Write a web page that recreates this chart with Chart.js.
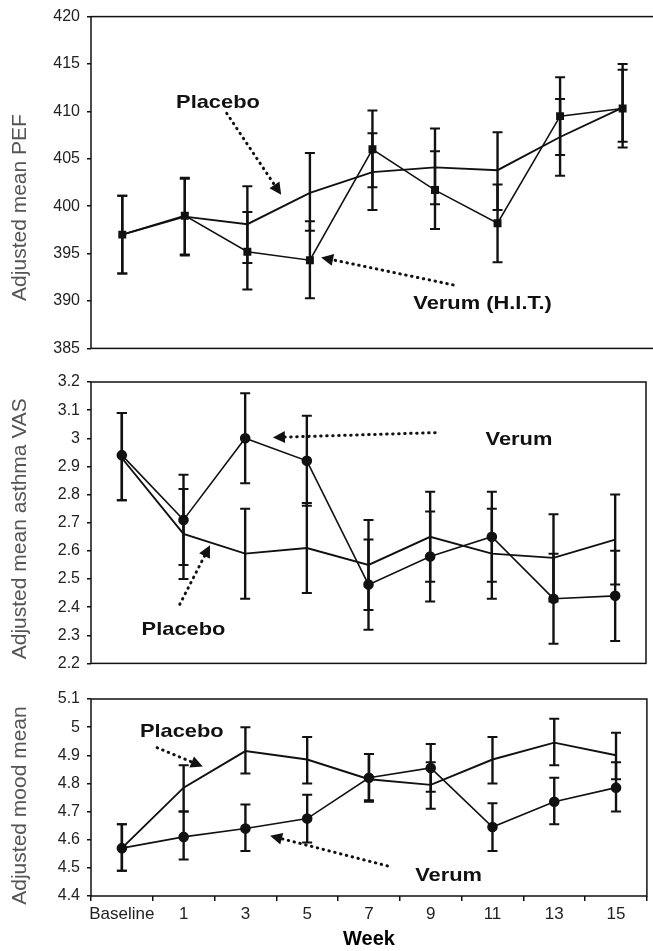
<!DOCTYPE html>
<html>
<head>
<meta charset="utf-8">
<script src="https://cdn.jsdelivr.net/npm/chart.js@4.4.1/dist/chart.umd.min.js"></script>
<style>
html, body { margin: 0; padding: 0; background: #fff; overflow: hidden; width: 653px; height: 951px; }
canvas { position: absolute; left: 0; }
</style>
</head>
<body>
<canvas id="pefChart" width="660" height="365" style="top:0px"></canvas>
<canvas id="vasChart" width="653" height="315" style="top:365px"></canvas>
<canvas id="moodChart" width="653" height="271" style="top:680px"></canvas>
<script>
var weeks = ['Baseline', '1', '3', '5', '7', '9', '11', '13', '15'];

// adjusted mean PEF
var pefVerum = [397.0, 399.0, 395.2, 394.3, 406.0, 401.7, 398.2, 409.5, 410.3];
var pefVerumLow = [392.9, 394.8, 391.2, 390.3, 402.0, 397.6, 394.1, 405.4, 406.2];
var pefVerumHigh = [401.1, 403.0, 399.4, 398.4, 410.1, 405.8, 402.3, 413.6, 414.4];
var pefPlacebo = [397.0, 398.9, 398.1, 401.4, 403.6, 404.1, 403.8, 407.3, 410.4];
var pefPlaceboLow = [392.9, 394.9, 394.0, 397.4, 399.6, 400.2, 399.6, 403.2, 406.8];
var pefPlaceboHigh = [401.1, 402.9, 402.1, 405.6, 407.7, 408.2, 407.8, 411.3, 415.0];

// adjusted mean asthma VAS
var vasVerum = [2.94, 2.71, 3.00, 2.92, 2.48, 2.58, 2.65, 2.43, 2.44];
var vasVerumLow = [2.78, 2.55, 2.84, 2.76, 2.32, 2.42, 2.49, 2.27, 2.28];
var vasVerumHigh = [3.09, 2.87, 3.16, 3.08, 2.64, 2.74, 2.81, 2.59, 2.60];
var vasPlacebo = [2.93, 2.66, 2.59, 2.61, 2.55, 2.65, 2.59, 2.575, 2.64];
var vasPlaceboLow = [2.78, 2.50, 2.43, 2.45, 2.39, 2.49, 2.43, 2.42, 2.48];
var vasPlaceboHigh = [3.09, 2.82, 2.75, 2.77, 2.71, 2.81, 2.75, 2.73, 2.80];

// adjusted mood mean
var moodVerum = [4.57, 4.61, 4.64, 4.675, 4.82, 4.855, 4.645, 4.735, 4.785];
var moodVerumLow = [4.49, 4.53, 4.56, 4.59, 4.74, 4.77, 4.56, 4.655, 4.70];
var moodVerumHigh = [4.655, 4.70, 4.725, 4.76, 4.905, 4.94, 4.73, 4.82, 4.875];
var moodPlacebo = [4.57, 4.785, 4.915, 4.885, 4.815, 4.795, 4.885, 4.945, 4.90];
var moodPlaceboLow = [4.49, 4.70, 4.835, 4.80, 4.735, 4.71, 4.80, 4.865, 4.815];
var moodPlaceboHigh = [4.655, 4.865, 5.0, 4.965, 4.905, 4.875, 4.965, 5.03, 4.98];

Chart.defaults.font.family = "'Liberation Sans', Arial, sans-serif";
Chart.defaults.color = '#222';

// labels + dotted arrows, placed in data units (category index, value)
var panelNotes = {
    pefChart: {
        yTitle: 'Adjusted mean PEF', titleShift: 25,
        labels: [{ text: 'Placebo', at: [1.53, 410.4] }, { text: 'Verum (H.I.T.)', at: [5.76, 389.2] }],
        arrows: [{ from: [1.67, 409.8], to: [2.54, 401.2] }, { from: [5.29, 391.7], to: [3.18, 394.6] }]
    },
    vasChart: {
        yTitle: 'Adjusted mean asthma VAS', titleShift: 6,
        labels: [{ text: 'Verum', at: [6.44, 2.975] }, { text: 'Placebo', at: [1.0, 2.302] }],
        arrows: [{ from: [5.08, 3.02], to: [2.45, 3.003] }, { from: [0.94, 2.41], to: [1.43, 2.62] }]
    },
    moodChart: {
        yTitle: 'Adjusted mood mean', titleShift: 8,
        labels: [{ text: 'Placebo', at: [0.97, 4.966] }, { text: 'Verum', at: [5.29, 4.453] }],
        arrows: [{ from: [0.57, 4.927], to: [1.31, 4.86] }, { from: [4.30, 4.507], to: [2.40, 4.614] }]
    }
};

function drawArrow(ctx, x1, y1, x2, y2) {
    var ang = Math.atan2(y2 - y1, x2 - x1);
    var head = 12;
    var ex = x2 - Math.cos(ang) * head;
    var ey = y2 - Math.sin(ang) * head;
    ctx.save();
    ctx.strokeStyle = '#111';
    ctx.lineWidth = 3;
    ctx.lineCap = 'round';
    ctx.setLineDash([0.5, 5.5]);
    ctx.beginPath();
    ctx.moveTo(x1, y1);
    ctx.lineTo(ex, ey);
    ctx.stroke();
    ctx.setLineDash([]);
    ctx.fillStyle = '#111';
    ctx.beginPath();
    ctx.moveTo(x2, y2);
    ctx.lineTo(ex + Math.sin(ang) * 6, ey - Math.cos(ang) * 6);
    ctx.lineTo(ex - Math.sin(ang) * 6, ey + Math.cos(ang) * 6);
    ctx.closePath();
    ctx.fill();
    ctx.restore();
}

var panelPlugin = {
    id: 'panelPlugin',
    beforeDatasetsDraw: function (chart) {
        var ctx = chart.ctx, ca = chart.chartArea, y = chart.scales.y;
        ctx.save();
        ctx.strokeStyle = '#111';
        ctx.lineWidth = 1.5;
        ctx.strokeRect(ca.left, ca.top, ca.right - ca.left, ca.bottom - ca.top);
        // error bars
        chart.data.datasets.forEach(function (ds, i) {
            var meta = chart.getDatasetMeta(i);
            meta.data.forEach(function (pt, j) {
                var yl = y.getPixelForValue(ds.errLow[j]);
                var yh = y.getPixelForValue(ds.errHigh[j]);
                ctx.lineWidth = 2.4;
                ctx.beginPath();
                ctx.moveTo(pt.x, yl);
                ctx.lineTo(pt.x, yh);
                ctx.stroke();
                ctx.lineWidth = 2;
                ctx.beginPath();
                ctx.moveTo(pt.x - 5, yl); ctx.lineTo(pt.x + 5, yl);
                ctx.moveTo(pt.x - 5, yh); ctx.lineTo(pt.x + 5, yh);
                ctx.stroke();
            });
        });
        ctx.restore();
    },
    afterDraw: function (chart) {
        var ctx = chart.ctx, ca = chart.chartArea;
        var notes = panelNotes[chart.canvas.id];
        var xs = chart.scales.x, ys = chart.scales.y;
        ctx.save();
        ctx.fillStyle = '#555';
        ctx.font = "21px 'Liberation Sans', Arial, sans-serif";
        ctx.textAlign = 'center';
        ctx.textBaseline = 'middle';
        ctx.translate(20, (ca.top + ca.bottom) / 2 + notes.titleShift);
        ctx.rotate(-Math.PI / 2);
        ctx.fillText(notes.yTitle, 0, 0);
        ctx.restore();

        notes.arrows.forEach(function (a) {
            drawArrow(ctx, xs.getPixelForValue(a.from[0]), ys.getPixelForValue(a.from[1]),
                xs.getPixelForValue(a.to[0]), ys.getPixelForValue(a.to[1]));
        });
        notes.labels.forEach(function (l) {
            ctx.save();
            ctx.fillStyle = '#111';
            ctx.font = "bold 19px 'Liberation Sans', Arial, sans-serif";
            ctx.textAlign = 'center';
            ctx.textBaseline = 'alphabetic';
            ctx.translate(xs.getPixelForValue(l.at[0]), ys.getPixelForValue(l.at[1]));
            ctx.scale(1.15, 1);
            ctx.fillText(l.text, 0, 0);
            ctx.restore();
        });
    }
};

function makePanel(id, verum, vLow, vHigh, placebo, pLow, pHigh, yMin, yMax, step, pad, pointShape, lastPanel) {
    var xScale;
    if (lastPanel) {
        xScale = {
            offset: true,
            grid: { display: true, drawOnChartArea: false, drawTicks: true, tickLength: 5, offset: true, color: '#111', lineWidth: 1.5 },
            border: { display: false },
            ticks: { font: { size: 17 }, color: '#222', padding: 3, maxRotation: 0, autoSkip: false },
            title: { display: true, text: 'Week', font: { size: 20, weight: 'bold' }, color: '#000', padding: 0 },
            afterFit: function (s) { s.height = 55; }
        };
    } else {
        xScale = { display: false, offset: true };
    }
    return new Chart(id, {
        type: 'line',
        data: {
            labels: weeks,
            datasets: [{
                label: 'Verum',
                data: verum,
                errLow: vLow,
                errHigh: vHigh,
                borderColor: '#111',
                borderWidth: 1.6,
                pointStyle: pointShape,
                pointRadius: 4.5,
                pointBackgroundColor: '#111',
                pointBorderColor: '#111',
                tension: 0
            }, {
                label: 'Placebo',
                data: placebo,
                errLow: pLow,
                errHigh: pHigh,
                borderColor: '#111',
                borderWidth: 1.9,
                pointRadius: 0,
                tension: 0
            }]
        },
        options: {
            responsive: false,
            animation: false,
            layout: { padding: pad },
            plugins: { legend: { display: false }, tooltip: { enabled: false } },
            scales: {
                x: xScale,
                y: {
                    min: yMin,
                    max: yMax,
                    grid: { drawOnChartArea: false, drawTicks: true, tickLength: 4, color: '#111', lineWidth: 1.5 },
                    border: { display: false },
                    ticks: {
                        stepSize: step,
                        font: { size: 16 },
                        color: '#222',
                        padding: 7,
                        callback: function (v) { return String(+v.toFixed(1)); }
                    },
                    afterFit: function (s) { s.width = 91; }
                }
            }
        },
        plugins: [panelPlugin]
    });
}

makePanel('pefChart', pefVerum, pefVerumLow, pefVerumHigh, pefPlacebo, pefPlaceboLow, pefPlaceboHigh,
    385, 420, 5, { top: 15, bottom: 15, left: 0, right: 2 }, 'rect', false);
makePanel('vasChart', vasVerum, vasVerumLow, vasVerumHigh, vasPlacebo, vasPlaceboLow, vasPlaceboHigh,
    2.2, 3.2, 0.1, { top: 17, bottom: 12, left: 0, right: 7 }, 'circle', false);
makePanel('moodChart', moodVerum, moodVerumLow, moodVerumHigh, moodPlacebo, moodPlaceboLow, moodPlaceboHigh,
    4.4, 5.1, 0.1, { top: 19, bottom: 0, left: 0, right: 6 }, 'circle', true);
</script>
</body>
</html>
